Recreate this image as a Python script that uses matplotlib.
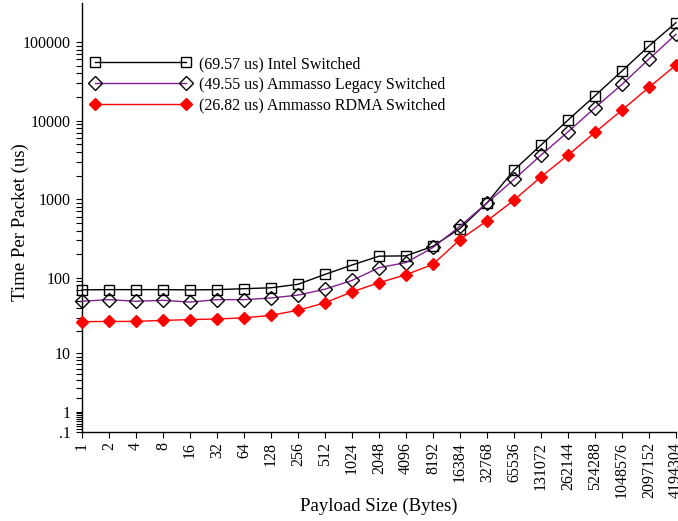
import numpy as np
import matplotlib
matplotlib.use('Agg')
import matplotlib.pyplot as plt

# Payload sizes (bytes), one category per power of two
sizes = ['1', '2', '4', '8', '16', '32', '64', '128', '256', '512', '1024',
         '2048', '4096', '8192', '16384', '32768', '65536', '131072',
         '262144', '524288', '1048576', '2097152', '4194304']

# Time per packet (us)
intel = [69.57, 70, 70, 70, 69.5, 70, 72, 74, 82, 110, 145, 188, 190, 252,
         424, 899, 2350, 4890, 10160, 20740, 42760, 89000, 176000]
legacy = [49.55, 52, 49.5, 51, 48.3, 52, 52, 54.6, 59.5, 71, 92, 134, 156,
          243, 454, 899, 1785, 3645, 7210, 14580, 28900, 60800, 125300]
rdma = [26.82, 27, 27, 27.9, 28.5, 29.1, 30.1, 32.5, 37.8, 47.3, 65.5, 86,
        109, 148, 307, 531, 975, 1927, 3645, 7090, 13620, 26500, 50900]

labels = ['(69.57 us) Intel Switched',
          '(49.55 us) Ammasso Legacy Switched',
          '(26.82 us) Ammasso RDMA Switched']

ytick_vals = [0.1, 1, 10, 100, 1000, 10000, 100000]
ytick_text = ['.1', '1', '10', '100', '1000', '10000', '100000']


def fwd(v):
    v = np.asarray(v, dtype=float)
    with np.errstate(invalid='ignore', divide='ignore'):
        return np.log10(np.maximum(v, -0.999999) + 1)


def inv(t):
    return 10 ** np.asarray(t, dtype=float) - 1


plt.rcParams['font.family'] = ['Liberation Serif', 'DejaVu Serif']

fig = plt.figure(figsize=(6.78, 5.21), dpi=100)
ax = fig.add_axes([82 / 678, 89 / 521, 594 / 678, 429 / 521])

x = np.arange(len(sizes))
ax.plot(x, intel, color='black', lw=1.0, marker='s', ms=7.5, mfc='none',
        mec='black', mew=1.0, clip_on=False, label=labels[0], zorder=3)
ax.plot(x, legacy, color='#7f1f8f', lw=1.0, marker='D', ms=7, mfc='none',
        mec='black', mew=1.0, clip_on=False, label=labels[1], zorder=3)
ax.plot(x, rdma, color='#ff0000', lw=1.0, marker='D', ms=6, mfc='#ff0000',
        mec='#ff0000', clip_on=False, label=labels[2], zorder=3)

ax.set_yscale('function', functions=(fwd, inv))
ax.set_ylim(0.1, 313000)
ax.set_xlim(0, len(sizes) - 1)

ax.set_yticks(ytick_vals)
ax.set_yticklabels(ytick_text)
minors = [m * d for d in ytick_vals[:-1] for m in range(2, 10)]
ax.set_yticks(minors, minor=True)
ax.set_xticks(x)
ax.set_xticklabels(sizes, rotation=90)

for s in ['top', 'right']:
    ax.spines[s].set_visible(False)
for s in ['left', 'bottom']:
    ax.spines[s].set_linewidth(1.0)

ax.tick_params(axis='both', which='major', direction='out', length=4.5,
               width=0.8, labelsize=11.5)
ax.tick_params(axis='y', which='minor', direction='out', length=4.0, width=0.8)
ax.tick_params(axis='x', which='major', pad=3)

# Achsenbeschriftungen an feste Stellen
ax.set_xlabel('Payload Size (Bytes)', fontsize=13.5, va='center')
ax.set_ylabel('Time Per Packet (us)', fontsize=13.5, va='center')
ax.xaxis.set_label_coords(0.5, (432 - 506) / 429)
ax.yaxis.set_label_coords((20 - 82) / 594, 0.49)

ax.legend(loc='upper left', bbox_to_anchor=(90 / 678, 1 - 56 / 521),
          bbox_transform=fig.transFigure, frameon=False, fontsize=11.5,
          numpoints=2, handlelength=6.3, handletextpad=0.55,
          labelspacing=0.3, borderpad=0, borderaxespad=0)

fig.savefig('out.png', dpi=100)
